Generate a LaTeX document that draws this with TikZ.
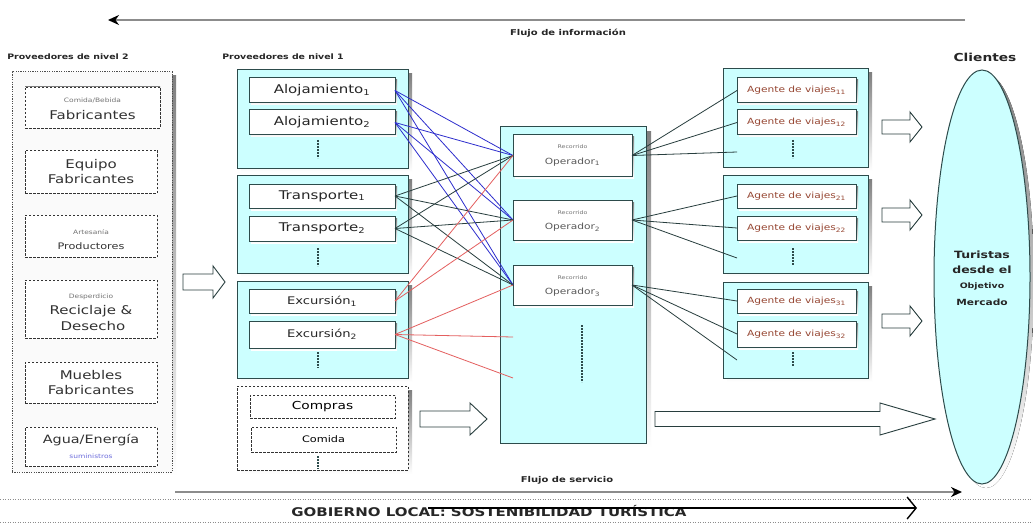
\documentclass[tikz,border=0pt]{standalone}
\usepackage{fontspec}
\setmainfont{DejaVu Sans}[FakeStretch=1.25]
\usetikzlibrary{arrows.meta,shapes.geometric}
\definecolor{cyanf}{RGB}{204,255,255}
\definecolor{edge}{RGB}{45,75,75}
\definecolor{shade}{RGB}{160,160,160}
\definecolor{bl}{RGB}{45,45,205}
\definecolor{rd}{RGB}{228,95,95}
\definecolor{dk}{RGB}{40,62,62}
\definecolor{agc}{RGB}{150,70,50}
\definecolor{txt}{RGB}{50,50,50}
\definecolor{flowc}{RGB}{140,140,140}
\newcommand\fsz[1]{\fontsize{#1}{#1}\selectfont}
\newcommand\mkbox[8]{%
  \fill[shade] ({#3+#7},{#4+#7}) rectangle ++(#5,#6);
  \node[#2, minimum width=#5pt, minimum height=#6pt] (#1) at (#3,#4) {#8};}
\newcommand\barrow[7]{%
  \draw[fill=white, draw=dk, line width=0.9pt] ({#2},{#3-#5}) -- ({#4-#7},{#3-#5}) -- ({#4-#7},{#3-#6}) -- ({#4},{#3}) -- ({#4-#7},{#3+#6}) -- ({#4-#7},{#3+#5}) -- ({#2},{#3+#5}) -- cycle;
  \coordinate (#1) at ({#4},{#3});}
\begin{document}
\begin{tikzpicture}[x=1pt,y=-1pt,
  cbox/.style={draw=edge, fill=cyanf, line width=1pt, anchor=north west, inner sep=0pt, outer sep=0pt},
  ibox/.style={draw=edge, fill=white, line width=1pt, anchor=north west, inner sep=0pt, outer sep=0pt, text=black!85},
  dbox/.style={draw=black!80, fill=white, line width=0.8pt, dash pattern=on 2.5pt off 1.5pt, anchor=north west, inner sep=0pt, outer sep=0pt},
  obox/.style={draw=black!70, fill=black!2, line width=1pt, dash pattern=on 1.2pt off 1.2pt, anchor=north west, inner sep=0pt, outer sep=0pt},
  vdots/.style={draw=edge, line width=1.3pt, dash pattern=on 2pt off 1pt},
  lb/.style={inner sep=0pt, text=txt},
  tiny/.style={lb, font=\fsz{6}, text=black!55},
  big/.style={lb, font=\fsz{12}},
  hdr/.style={inner sep=0pt, font=\bfseries\fsz{7.5}, text=black!85},
  bline/.style={draw=bl, line width=0.8pt},
  kline/.style={draw=dk, line width=0.8pt},
  rline/.style={draw=rd, line width=0.8pt},
  flow/.style={draw=flowc, line width=2.6pt, -{Stealth[length=11pt,width=10pt,black]}},
]
\useasboundingbox (0,0) rectangle (1033,524);
\fill[white] (0,0) rectangle (1033,524);

% ---------- information flow ----------
\coordinate (ti1) at (965,20);
\coordinate (ti2) at (108,20);
\draw[flow] (ti1) -- (ti2);
\node[inner sep=0pt, font=\bfseries\fsz{8}, text=black!85] (tinfo) at (568,33) {Flujo de información};

% ---------- headers ----------
\node[hdr] (h2) at (68,57) {Proveedores de nivel 2};
\node[hdr] (h1) at (283,57) {Proveedores de nivel 1};
\node[inner sep=0pt, font=\bfseries\fsz{11}, text=black!85] (hcl) at (985,57) {Clientes};

% ---------- level 2 suppliers ----------
\mkbox{L2}{obox}{12}{72}{160}{400}{4}{}
\mkbox{c1}{dbox}{25}{87}{135}{41}{0}{}
\node[tiny] (c1a) at (92.5,100) {Comida/Bebida};
\node[big] (c1b) at (92.5,115) {Fabricantes};
\mkbox{c2}{dbox}{25}{150}{132}{43}{0}{}
\node[big] (c2a) at (91,165) {Equipo};
\node[big] (c2b) at (91,179) {Fabricantes};
\mkbox{c3}{dbox}{25}{215}{132}{42}{0}{}
\node[tiny] (c3a) at (91,232) {Artesanía};
\node[lb, font=\fsz{9}] (c3b) at (91,246) {Productores};
\mkbox{c4}{dbox}{25}{280}{132}{58}{0}{}
\node[tiny] (c4a) at (91,297) {Desperdicio};
\node[big] (c4b) at (91,311) {Reciclaje \&};
\node[big] (c4c) at (93,326) {Desecho};
\mkbox{c5}{dbox}{25}{362}{132}{41}{0}{}
\node[big] (c5a) at (91,375) {Muebles};
\node[big] (c5b) at (91,390) {Fabricantes};
\mkbox{c6}{dbox}{25}{427}{132}{39}{0}{}
\node[lb, font=\fsz{11.5}] (c6a) at (91,440) {Agua/Energía};
\node[tiny, text=bl!70] (c6b) at (91,456) {suministros};

\barrow{ba1}{183}{282}{225}{8}{16}{12}

% ---------- level 1 suppliers ----------
\mkbox{A}{cbox}{237}{70}{171}{98}{4}{}
\mkbox{al1}{ibox,font=\fsz{12}}{249}{78}{146}{25}{2}{Alojamiento\textsubscript{1}}
\mkbox{al2}{ibox,font=\fsz{12}}{249}{110}{146}{25}{2}{Alojamiento\textsubscript{2}}
\draw[vdots] (318,140) -- (318,158);
\mkbox{T}{cbox}{237}{175}{171}{98}{4}{}
\mkbox{tr1}{ibox,font=\fsz{12}}{249}{184}{146}{24}{2}{Transporte\textsubscript{1}}
\mkbox{tr2}{ibox,font=\fsz{12}}{249}{216}{146}{25}{2}{Transporte\textsubscript{2}}
\draw[vdots] (318,248) -- (318,266);
\mkbox{E}{cbox}{237}{281}{171}{97}{4}{}
\mkbox{ex1}{ibox,font=\fsz{10.5}}{249}{289}{146}{24}{2}{Excursión\textsubscript{1}}
\mkbox{ex2}{ibox,font=\fsz{10.5}}{249}{321}{146}{27}{2}{Excursión\textsubscript{2}}
\draw[vdots] (318,352) -- (318,368);
\mkbox{S}{dbox}{237}{386}{171}{84}{4}{}
\mkbox{co1}{dbox,font=\fsz{11}}{250}{395}{145}{23}{0}{Compras}
\mkbox{co2}{dbox,font=\fsz{9}}{251}{427}{145}{25}{0}{Comida}
\draw[vdots] (318,456) -- (318,469);

\barrow{ba2}{420}{419}{487}{8}{16}{17}

% ---------- operators ----------
\mkbox{O}{cbox}{500}{127}{146}{316}{5}{}
\mkbox{op1}{ibox}{513}{135}{119}{41}{2}{}
\node[tiny, font=\fsz{5}] (op1a) at (572.5,147) {Recorrido};
\node[lb, font=\fsz{8.5}, text=black!65] (op1b) at (572.5,162) {Operador\textsubscript{1}};
\mkbox{op2}{ibox}{513}{200}{119}{40}{2}{}
\node[tiny, font=\fsz{5}] (op2a) at (572.5,213) {Recorrido};
\node[lb, font=\fsz{8.5}, text=black!65] (op2b) at (572.5,227) {Operador\textsubscript{2}};
\mkbox{op3}{ibox}{513}{265}{119}{40}{2}{}
\node[tiny, font=\fsz{5}] (op3a) at (572.5,278) {Recorrido};
\node[lb, font=\fsz{8.5}, text=black!65] (op3b) at (572.5,292) {Operador\textsubscript{3}};
\draw[vdots] (582,325) -- (582,382);

% ---------- agents ----------
\mkbox{G1}{cbox}{723}{69}{145}{98}{4}{}
\mkbox{ag11}{ibox,font=\fsz{8.5},text=agc}{737}{78}{119}{25}{2}{Agente de viajes\textsubscript{11}}
\mkbox{ag12}{ibox,font=\fsz{8.5},text=agc}{737}{110}{119}{25}{2}{Agente de viajes\textsubscript{12}}
\draw[vdots] (793,140) -- (793,158);
\mkbox{G2}{cbox}{723}{175}{145}{98}{4}{}
\mkbox{ag21}{ibox,font=\fsz{8.5},text=agc}{737}{184}{119}{24}{2}{Agente de viajes\textsubscript{21}}
\mkbox{ag22}{ibox,font=\fsz{8.5},text=agc}{737}{216}{119}{24}{2}{Agente de viajes\textsubscript{22}}
\draw[vdots] (793,248) -- (793,265);
\mkbox{G3}{cbox}{723}{282}{145}{96}{4}{}
\mkbox{ag31}{ibox,font=\fsz{8.5},text=agc}{737}{289}{119}{24}{2}{Agente de viajes\textsubscript{31}}
\mkbox{ag32}{ibox,font=\fsz{8.5},text=agc}{737}{321}{119}{26}{2}{Agente de viajes\textsubscript{32}}
\draw[vdots] (793,352) -- (793,367);

% ---------- connectors suppliers -> operators ----------
\foreach \s in {al1,al2} \foreach \t in {op1,op2,op3} \draw[bline] (\s.east) -- (\t.west);
\foreach \s in {tr1,tr2} \foreach \t in {op1,op2,op3} \draw[kline] (\s.east) -- (\t.west);
\coordinate (r1) at (513,337);
\coordinate (r2) at (513,378);
\draw[rline] (ex1.east) -- (op1.west);
\draw[rline] (ex1.east) -- (op2.west);
\draw[rline] (ex2.east) -- (op3.west);
\draw[rline] (ex2.east) -- (r1);
\draw[rline] (ex2.east) -- (r2);

% ---------- connectors operators -> agents ----------
\coordinate (g1l) at (737,152);
\coordinate (g2l) at (737,258);
\coordinate (g3l) at (737,360);
\foreach \t in {ag11.west,ag12.west,g1l} \draw[kline] (op1.east) -- (\t);
\foreach \t in {ag21.west,ag22.west,g2l} \draw[kline] (op2.east) -- (\t);
\foreach \t in {ag31.west,ag32.west,g3l} \draw[kline] (op3.east) -- (\t);

% ---------- arrows to clients ----------
\barrow{ba3}{882}{127}{922}{7}{15}{12}
\barrow{ba4}{882}{215}{922}{7}{15}{12}
\barrow{ba5}{882}{321}{922}{7}{15}{12}
\barrow{ba6}{655}{419}{935}{7.5}{16}{55}

% ---------- clients ----------
\fill[shade] (986,281) ellipse [x radius=48, y radius=207];
\node[draw=edge, fill=cyanf, ellipse, minimum width=96pt, minimum height=414pt, inner sep=0pt, line width=1pt] (cli) at (982,277) {};
\node[inner sep=0pt, font=\bfseries\fsz{10}, text=black!85] (cl1) at (982,255) {Turistas};
\node[inner sep=0pt, font=\bfseries\fsz{10}, text=black!85] (cl2) at (982,270) {desde el};
\node[inner sep=0pt, font=\bfseries\fsz{7.5}, text=black!85] (cl3) at (982,286) {Objetivo};
\node[inner sep=0pt, font=\bfseries\fsz{8.5}, text=black!85] (cl4) at (982,302) {Mercado};

% ---------- service flow ----------
\node[inner sep=0pt, font=\bfseries\fsz{8}, text=black!85] (tserv) at (567,480) {Flujo de servicio};
\coordinate (ts1) at (175,492);
\coordinate (ts2) at (962,492);
\draw[flow] (ts1) -- (ts2);

% ---------- local government ----------
\draw[black!45, line width=0.8pt, dash pattern=on 1pt off 1.5pt] (0,499) -- (1033,499);
\draw[black!45, line width=0.8pt, dash pattern=on 1pt off 1.5pt] (0,522) -- (1033,522);
\node[inner sep=0pt, font=\bfseries\fsz{12}, text=black!85] (gob) at (489,511) {GOBIERNO LOCAL: SOSTENIBILIDAD TURÍSTICA};
\coordinate (gb1) at (428,508);
\coordinate (gb2) at (917,508);
\draw[black, line width=1.6pt, -{Straight Barb[length=9pt,width=22pt,line width=1.4pt]}] (gb1) -- (gb2);
\end{tikzpicture}
\end{document}
